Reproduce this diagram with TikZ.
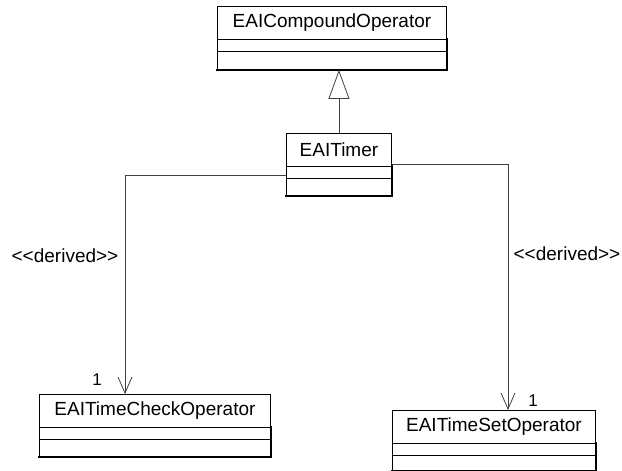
\documentclass[tikz,border=0pt]{standalone}
\usepackage{fontspec}
\setmainfont{Liberation Sans}
\usetikzlibrary{arrows.meta,calc}
\tikzset{
  cls/.style={draw=black, line width=0.9pt, fill=white, inner sep=0pt, anchor=north west},
  ttl/.style={inner sep=0pt, font=\fontsize{19}{22}\selectfont},
  lbl/.style={inner sep=0pt, font=\fontsize{19}{22}\selectfont},
  mult/.style={inner sep=0pt, font=\fontsize{17}{20}\selectfont},
  conn/.style={draw=black!75, line width=0.8pt},
  shade/.style={line width=1.8pt, line cap=rect},
  gen/.style={-{Triangle[open,length=29pt,width=21pt,line width=0.8pt]}},
  dep/.style={-{Straight Barb[length=16pt,width=14pt,line width=0.8pt]}}
}
\newcommand{\umlclass}[6]{%
  % name, x, y, width, height, title
  \node[cls, minimum width=#4pt, minimum height=#5pt] (#1) at (#2,#3) {};
  \node[ttl] (#1-t) at ($(#1.north)+(0,16.5)$) {#6};
  \draw[line width=0.9pt] ($(#1.north west)+(0,33)$) -- ($(#1.north east)+(0,33)$);
  \draw[line width=0.9pt] ($(#1.north west)+(0,45)$) -- ($(#1.north east)+(0,45)$);
  \draw[shade] (#1.south west) -- (#1.south east) -- ($(#1.north east)+(0,33)$);
}
\begin{document}
\begin{tikzpicture}[x=1pt,y=-1pt]
\useasboundingbox[fill=white] (0,0) rectangle (622,471);

\umlclass{comp}{217}{6}{229}{63}{EAICompoundOperator}
\umlclass{timer}{286}{133}{105}{62}{EAITimer}
\umlclass{check}{39}{394}{231}{62}{EAITimeCheckOperator}
\umlclass{set}{392}{410}{203}{60}{EAITimeSetOperator}

% generalization
\draw[conn, gen] (timer.north) -- (timer.north |- comp.south);

% dependencies
\coordinate (lstart) at ($(timer.west)+(0,11)$);
\coordinate (lend) at ($(check.north west)+(86,0)$);
\draw[conn, dep] (lstart) -| (lend);
\coordinate (rend) at ($(set.north west)+(116,0)$);
\draw[conn, dep] (timer.east) -| (rend);

% labels
\node[lbl] (dl) at (65,256) {<{}<derived>{}>};
\node[lbl] (dr) at (567,254) {<{}<derived>{}>};
\node[mult] (m1) at (97,380) {1};
\node[mult] (m2) at (533,401) {1};
\end{tikzpicture}
\end{document}
